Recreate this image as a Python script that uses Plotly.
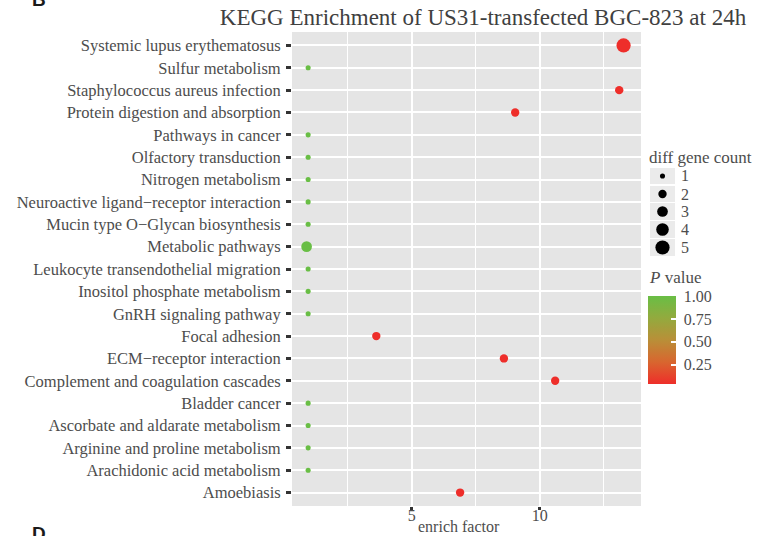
import math
import plotly.graph_objects as go

# ---------------- data ----------------
pathways = [
    "Systemic lupus erythematosus",
    "Sulfur metabolism",
    "Staphylococcus aureus infection",
    "Protein digestion and absorption",
    "Pathways in cancer",
    "Olfactory transduction",
    "Nitrogen metabolism",
    "Neuroactive ligand\u2212receptor interaction",
    "Mucin type O\u2212Glycan biosynthesis",
    "Metabolic pathways",
    "Leukocyte transendothelial migration",
    "Inositol phosphate metabolism",
    "GnRH signaling pathway",
    "Focal adhesion",
    "ECM\u2212receptor interaction",
    "Complement and coagulation cascades",
    "Bladder cancer",
    "Ascorbate and aldarate metabolism",
    "Arginine and proline metabolism",
    "Arachidonic acid metabolism",
    "Amoebiasis",
]
enrich_factor = [13.27, 0.96, 13.10, 9.04, 0.96, 0.96, 0.96, 0.96, 0.96, 0.90,
                 0.96, 0.96, 0.96, 3.62, 8.60, 10.60, 0.96, 0.96, 0.96, 0.96, 6.89]
gene_count = [5, 1, 2, 2, 1, 1, 1, 1, 1, 3,
              1, 1, 1, 2, 2, 2, 1, 1, 1, 1, 2]
p_value = [0.04, 1.0, 0.04, 0.04, 1.0, 1.0, 1.0, 1.0, 1.0, 1.0,
           1.0, 1.0, 1.0, 0.04, 0.04, 0.04, 1.0, 1.0, 1.0, 1.0, 0.04]

size_breaks = [1, 2, 3, 4, 5]
p_ticks = [0.25, 0.50, 0.75, 1.00]
x_ticks = [5, 10]

title_text = "KEGG Enrichment of US31-transfected BGC-823 at 24h"
x_title = "enrich factor"
size_title = "diff gene count"
color_title = "<i>P</i> value"

# ---------------- styling ----------------
SERIF = "Liberation Serif"
TXT = "#4d4d4d"
colorscale = [[0.0, "#ee2e2a"], [0.25, "#d8662f"], [0.5, "#b98f38"],
              [0.75, "#93aa3e"], [1.0, "#69be45"]]
CMIN, CMAX = 0.04, 1.0


def diam(c):
    return math.sqrt(44 * c - 18)


W, H = 771, 536
ML, MT, MB = 292, 32, 30
plot_w = W - ML
plot_h = H - MT - MB
main_dom = (641 - ML) / plot_w
leg_dom = 0.74
leg_x0 = ML + leg_dom * plot_w


def px(xp):
    return (xp - ML) / plot_w


def py(yp):
    return (H - MB - yp) / plot_h


bar_top, bar_len = 296, 88

fig = go.Figure()

# panel background
fig.add_shape(type="rect", xref="x domain", yref="y domain", x0=0, x1=1,
              y0=0, y1=1, fillcolor="#e5e5e5", line=dict(width=0),
              layer="below")

fig.add_trace(go.Scatter(
    x=enrich_factor, y=pathways, mode="markers",
    marker=dict(size=[diam(c) for c in gene_count], color=p_value,
                colorscale=colorscale, cmin=CMIN, cmax=CMAX, opacity=1,
                line=dict(width=0),
                colorbar=dict(
                    x=px(648), xanchor="left", xpad=0,
                    y=py(bar_top), yanchor="top", ypad=0,
                    lenmode="pixels", len=bar_len, thickness=28,
                    outlinewidth=0, tickvals=p_ticks,
                    ticktext=["\u00a0" + f"{v:.2f}" for v in p_ticks],
                    ticks="inside", ticklen=5, tickwidth=1.5,
                    tickcolor="white",
                    tickfont=dict(family=SERIF, size=16, color=TXT))),
    showlegend=False, hoverinfo="x+y"))

# size legend: grey key boxes as a bar trace on the overlay axis
key_y = [176, 194, 211.5, 229.5, 247.5]
fig.add_trace(go.Bar(
    x=[25] * len(key_y), y=key_y, base=[650] * len(key_y),
    orientation="h", width=[16.6] * len(key_y),
    xaxis="x2", yaxis="y2",
    marker=dict(color="#ebebeb", line=dict(width=0)),
    showlegend=False, hoverinfo="skip"))
fig.add_trace(go.Scatter(
    x=[662.5] * len(size_breaks), y=key_y, xaxis="x2", yaxis="y2",
    mode="markers",
    marker=dict(size=[diam(b) for b in size_breaks], color="black",
                opacity=1, line=dict(width=0)),
    showlegend=False, hoverinfo="skip", cliponaxis=False))

annotations = []
for b, yk in zip(size_breaks, key_y):
    annotations.append(dict(text=str(b), xref="paper", yref="paper",
                            x=px(679), y=py(yk),
                            xanchor="left", yanchor="middle", showarrow=False,
                            font=dict(family=SERIF, size=16, color=TXT)))

annotations += [
    dict(text=size_title, xref="paper", yref="paper", x=px(647), y=py(157),
         xanchor="left", yanchor="middle", showarrow=False,
         font=dict(family=SERIF, size=17, color=TXT)),
    dict(text=color_title, xref="paper", yref="paper", x=px(647), y=py(277),
         xanchor="left", yanchor="middle", showarrow=False,
         font=dict(family=SERIF, size=17, color=TXT)),
    dict(text=x_title, xref="x domain", yref="paper", x=0.479,
         y=py(526), xanchor="center", yanchor="middle",
         showarrow=False, font=dict(family=SERIF, size=16, color=TXT)),
    dict(text="<b>B</b>", xref="paper", yref="paper",
         x=px(38.5), y=py(-1),
         xanchor="center", yanchor="middle", showarrow=False,
         font=dict(family="Liberation Sans", size=19, color="#1a1a1a")),
    dict(text="<b>D</b>", xref="paper", yref="paper",
         x=px(38.5), y=py(533),
         xanchor="center", yanchor="middle", showarrow=False,
         font=dict(family="Liberation Sans", size=19, color="#1a1a1a")),
]

fig.update_layout(
    width=W, height=H,
    margin=dict(l=ML, r=0, t=MT, b=MB, pad=0),
    paper_bgcolor="white", plot_bgcolor="rgba(0,0,0,0)",
    bargap=0,
    title=dict(text=title_text, x=483 / W, xref="container",
               xanchor="center", y=1 - 17 / H, yref="container",
               yanchor="middle",
               font=dict(family=SERIF, size=23, color="#404040")),
    xaxis=dict(domain=[0, main_dom], range=[0.33, 13.95],
               tickvals=x_ticks, showgrid=True, gridcolor="white",
               gridwidth=2.4, zeroline=False, showline=False,
               ticks="outside", ticklen=3, tickwidth=2.5, tickcolor="#333",
               ticklabelstandoff=-8,
               minor=dict(dtick=2.5, tick0=0, showgrid=True,
                          gridcolor="white", gridwidth=1.4, ticks=""),
               tickfont=dict(family=SERIF, size=16, color=TXT),
               fixedrange=True),
    yaxis=dict(domain=[0, 1], type="category",
               categoryorder="array", categoryarray=pathways[::-1],
               range=[-0.6, len(pathways) - 0.4],
               showgrid=True, gridcolor="white", gridwidth=2.4,
               zeroline=False, showline=False,
               ticks="outside", ticklen=5, tickwidth=3, tickcolor="#333",
               ticklabelstandoff=2,
               tickfont=dict(family=SERIF, size=16.5, color=TXT),
               fixedrange=True),
    xaxis2=dict(domain=[leg_dom, 1], range=[leg_x0, W], visible=False,
                anchor="y2", fixedrange=True),
    yaxis2=dict(domain=[0, 1], range=[H - MB, MT], visible=False,
                anchor="x2", fixedrange=True),
    annotations=annotations,
)

fig.write_html(
    "out.html",
    config={"displayModeBar": False},
    post_script="document.body.style.margin='0px';"
                "document.body.style.overflow='hidden';")
